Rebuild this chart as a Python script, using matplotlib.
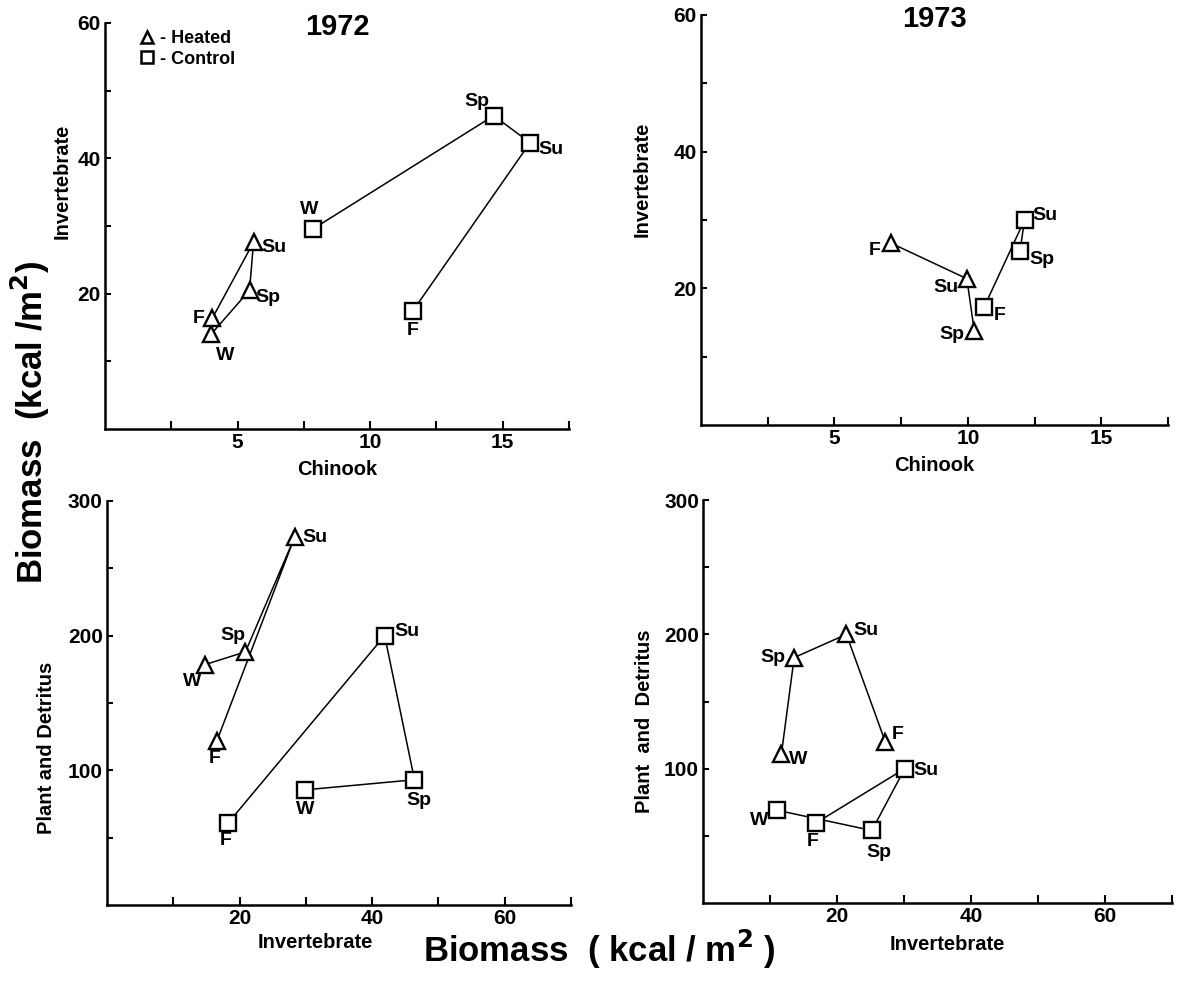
import matplotlib.pyplot as plt
from matplotlib.lines import Line2D

plt.rcParams['font.family'] = ['Liberation Sans', 'DejaVu Sans']
plt.rcParams['font.weight'] = 'bold'
plt.rcParams['axes.labelweight'] = 'bold'
plt.rcParams['mathtext.default'] = 'bf'

# 1972: invertebrate vs chinook biomass (kcal/m2)
tl_seasons = ["W", "Sp", "Su", "F"]
tl_heated_x = [4.0, 5.45, 5.6, 4.05]
tl_heated_y = [14.0, 20.5, 27.6, 16.4]
tl_control_x = [7.86, 14.66, 16.03, 11.6]
tl_control_y = [29.6, 46.3, 42.3, 17.4]

# 1973: invertebrate vs chinook
tr_seasons = ["Sp", "Su", "F"]
tr_heated_x = [10.24, 9.96, 7.12]
tr_heated_y = [13.7, 21.4, 26.6]
tr_control_x = [11.95, 12.12, 10.6]
tr_control_y = [25.4, 30.0, 17.2]

# 1972: plant and detritus vs invertebrate
bl_seasons = ["W", "Sp", "Su", "F"]
bl_heated_x = [14.8, 20.9, 28.3, 16.6]
bl_heated_y = [178.5, 188, 273, 122]
bl_control_x = [29.9, 46.4, 41.9, 18.3]
bl_control_y = [85.5, 93, 200, 61]

# 1973: plant and detritus vs invertebrate
br_seasons = ["W", "Sp", "Su", "F"]
br_heated_x = [11.7, 13.6, 21.4, 27.2]
br_heated_y = [111, 182.7, 200, 120]
br_control_x = [11.1, 25.2, 30.1, 16.8]
br_control_y = [69, 54, 100, 59.4]

# label offsets (points) for the season letters
tl_heated_off = [(10, -15), (13, -5), (15, -4), (-10, 0)]
tl_control_off = [(-3, 14), (-12, 10), (15, -5), (0, -14)]
tr_heated_off = [(-16, -2), (-15, -6), (-12, -5)]
tr_control_off = [(16, -6), (15, 3), (11, -6)]
bl_heated_off = [(-9, -12), (-9, 12), (15, 0), (-2, -13)]
bl_control_off = [(0, -14), (3, -15), (16, 3), (-2, -13)]
br_heated_off = [(12, -4), (-15, 0), (14, 3), (9, 5)]
br_control_off = [(-13, -7), (5, -16), (15, -1), (-2, -13)]


def draw(ax, seasons, x, y, marker, offs):
  ax.plot(x, y, color="k", lw=1.1, marker=marker, ms=12, mfc="white",
          mec="k", mew=1.7, zorder=3, clip_on=False)
  for s, xi, yi, (dx, dy) in zip(seasons, x, y, offs):
    ax.annotate(s, (xi, yi), xytext=(dx, dy), textcoords="offset points",
                ha="center", va="center", fontsize=14, fontweight="bold")


def style(ax, xmax, xticks, xlabels, ymax, yticks, ylabels):
  ax.set_xlim(0, xmax)
  ax.set_ylim(0, ymax)
  for side in ["top", "right"]:
    ax.spines[side].set_visible(False)
  for side in ["left", "bottom"]:
    ax.spines[side].set_linewidth(1.8)
  ax.set_xticks(xticks)
  ax.set_xticklabels(xlabels)
  ax.set_yticks(yticks)
  ax.set_yticklabels(ylabels)
  ax.tick_params(direction="in", width=1.5, labelsize=15, pad=3)
  ax.tick_params(axis="x", length=6)
  ax.tick_params(axis="y", length=4)


fig = plt.figure(figsize=(11.83, 9.81), dpi=100)

top_xt = [2.5, 5, 7.5, 10, 12.5, 15, 17.5]
top_xl = ["", "5", "", "10", "", "15", ""]
top_yt = [10, 20, 30, 40, 50, 60]
top_yl = ["", "20", "", "40", "", "60"]
bot_xt = [10, 20, 30, 40, 50, 60, 70]
bot_xl = ["", "20", "", "40", "", "60", ""]
bot_yt = [50, 100, 150, 200, 250, 300]
bot_yl = ["", "100", "", "200", "", "300"]

ax1 = fig.add_axes([0.0888, 0.5627, 0.3922, 0.4139])
style(ax1, 17.5, top_xt, top_xl, 60, top_yt, top_yl)
draw(ax1, tl_seasons, tl_heated_x, tl_heated_y, "^", tl_heated_off)
draw(ax1, tl_seasons, tl_control_x, tl_control_y, "s", tl_control_off)
ax1.set_xlabel("Chinook", fontsize=14.5, labelpad=6)
ax1.set_ylabel("Invertebrate", fontsize=14.5)
ax1.yaxis.set_label_coords(-0.072, 0.61)
ax1.text(0.50, 0.99, "1972", transform=ax1.transAxes, ha="center", va="center", fontsize=21)
handles = [Line2D([], [], ls="none", marker="^", ms=8, mfc="white", mec="k", mew=1.8),
           Line2D([], [], ls="none", marker="s", ms=8, mfc="white", mec="k", mew=1.8)]
ax1.legend(handles, ["- Heated", "- Control"], loc="upper left", bbox_to_anchor=(0.06, 1.0),
           frameon=False, fontsize=13, handlelength=0.8, handletextpad=0.3,
           labelspacing=0.2, borderaxespad=0)

ax2 = fig.add_axes([0.5926, 0.5668, 0.3948, 0.418])
style(ax2, 17.5, top_xt, top_xl, 60, top_yt, top_yl)
draw(ax2, tr_seasons, tr_heated_x, tr_heated_y, "^", tr_heated_off)
draw(ax2, tr_seasons, tr_control_x, tr_control_y, "s", tr_control_off)
ax2.set_xlabel("Chinook", fontsize=14.5, labelpad=6)
ax2.set_ylabel("Invertebrate", fontsize=14.5)
ax2.yaxis.set_label_coords(-0.105, 0.6)
ax2.text(0.50, 0.99, "1973", transform=ax2.transAxes, ha="center", va="center", fontsize=21)

ax3 = fig.add_axes([0.0904, 0.0775, 0.3922, 0.4118])
style(ax3, 70, bot_xt, bot_xl, 300, bot_yt, bot_yl)
draw(ax3, bl_seasons, bl_heated_x, bl_heated_y, "^", bl_heated_off)
draw(ax3, bl_seasons, bl_control_x, bl_control_y, "s", bl_control_off)
ax3.set_xlabel("Invertebrate", fontsize=14.5)
ax3.xaxis.set_label_coords(0.45, -0.07)
ax3.set_ylabel("Plant and Detritus", fontsize=14.5)
ax3.yaxis.set_label_coords(-0.11, 0.39)

ax4 = fig.add_axes([0.5943, 0.0795, 0.3964, 0.4108])
style(ax4, 70, bot_xt, bot_xl, 300, bot_yt, bot_yl)
draw(ax4, br_seasons, br_heated_x, br_heated_y, "^", br_heated_off)
draw(ax4, br_seasons, br_control_x, br_control_y, "s", br_control_off)
ax4.set_xlabel("Invertebrate", fontsize=14.5)
ax4.xaxis.set_label_coords(0.52, -0.08)
ax4.set_ylabel("Plant  and  Detritus", fontsize=14.5)
ax4.yaxis.set_label_coords(-0.105, 0.45)

fig.text(0.026, 0.57, "Biomass  (kcal /m$^2$)", rotation=90, ha="center", va="center", fontsize=25)
fig.text(0.507, 0.032, "Biomass  ( kcal / m$^2$ )", ha="center", va="center", fontsize=25)

fig.savefig("out.png", dpi=100)
